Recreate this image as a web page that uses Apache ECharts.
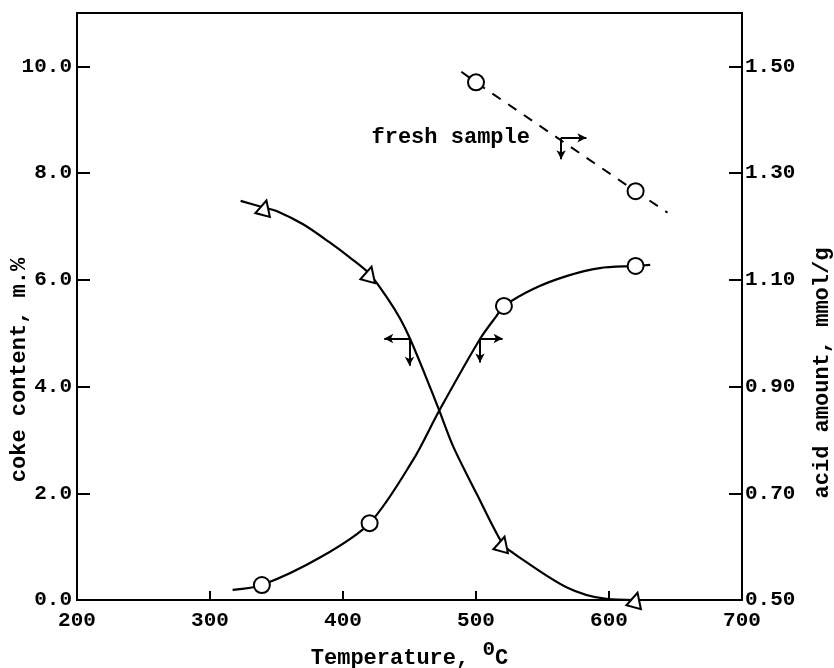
<!DOCTYPE html>
<html>
<head>
<meta charset="utf-8">
<script src="https://cdn.jsdelivr.net/npm/echarts@6/dist/echarts.min.js"></script>
<style>
html,body{margin:0;padding:0;background:#fff;}
#chart{width:834px;height:668px;}
</style>
</head>
<body>
<div id="chart"></div>
<script>
// ---- data ----
const xTicks = [200, 300, 400, 500, 600, 700];
const leftTicks = [0, 2, 4, 6, 8, 10];
const rightTicks = [0.5, 0.7, 0.9, 1.1, 1.3, 1.5];

// coke content (left axis, m.%) - triangles
const cokeT = [341, 420, 520, 620];
const cokeV = [7.35, 6.11, 1.05, 0.0];
// drawn curve through coke points
const cokeCurveT = [323, 341, 350, 370, 390, 405, 420, 433, 443, 450.5, 461.7, 472.4, 483, 500.5, 520, 528, 568, 598, 620];
const cokeCurveV = [7.48, 7.35, 7.29, 7.04, 6.70, 6.42, 6.11, 5.67, 5.27, 4.89, 4.22, 3.55, 2.87, 1.99, 1.05, 0.88, 0.24, 0.02, 0.0];

// acid amount (right axis, mmol/g) - circles
const acidT = [339, 420, 521, 620];
const acidV = [0.528, 0.644, 1.051, 1.126];
const acidCurveT = [317, 339, 383, 420, 452.6, 472.4, 503, 515.6, 521, 543, 568, 593, 620, 631];
const acidCurveV = [0.519, 0.528, 0.580, 0.644, 0.762, 0.855, 0.989, 1.033, 1.051, 1.083, 1.107, 1.122, 1.126, 1.128];

// fresh sample acid amount (right axis) - dashed line
const freshT = [500, 620];
const freshV = [1.470, 1.266];
const freshLineT = [489, 500, 620, 644];
const freshLineV = [1.490, 1.470, 1.266, 1.226];

// arrow annotations: [originX, originY, horizEndX, vertEndY]
const cokeArrow = [450, 4.90, 431, 4.39];
const acidArrow = [503, 0.990, 520, 0.945];
const freshArrow = [564, 1.366, 583, 1.326];

const FONT = '"Liberation Mono", "DejaVu Sans Mono", monospace';
const BLACK = '#000';

function zip(a, b) { return a.map((v, i) => [v, b[i]]); }
function arrowMark(a) {
  return {
    silent: true,
    symbol: ['none', 'arrow'],
    symbolSize: [7, 9],
    label: {show: false},
    lineStyle: {color: BLACK, width: 2, type: 'solid'},
    emphasis: {disabled: true},
    data: [
      [{coord: [a[0], a[1]]}, {coord: [a[2], a[1]]}],
      [{coord: [a[0], a[1]]}, {coord: [a[0], a[3]]}]
    ]
  };
}

const chart = echarts.init(document.getElementById('chart'));
const option = {
  animation: false,
  backgroundColor: '#fff',
  grid: {left: 77, right: 92, top: 13, bottom: 68, show: true, borderColor: BLACK, borderWidth: 2,
         containLabel: false, outerBoundsMode: 'none'},
  xAxis: {
    type: 'value', min: 200, max: 700, interval: 100,
    axisLine: {show: true, lineStyle: {color: BLACK, width: 2}},
    axisTick: {show: true, inside: true, length: 9, lineStyle: {color: BLACK, width: 2}},
    splitLine: {show: false},
    axisLabel: {
      color: BLACK, fontFamily: FONT, fontSize: 21, fontWeight: 'bold', margin: 10,
      formatter: v => xTicks.includes(v) ? String(v) : ''
    },
    name: '{t|Temperature, }{sup|0}{sub|C}',
    nameLocation: 'middle', nameGap: 39,
    nameTextStyle: {
      rich: {
        t: {fontFamily: FONT, fontSize: 22, fontWeight: 'bold', color: BLACK, verticalAlign: 'bottom', lineHeight: 30},
        sup: {fontFamily: FONT, fontSize: 21, fontWeight: 'bold', color: BLACK, verticalAlign: 'top', lineHeight: 30, padding: [0, 0, 12, 0]},
        sub: {fontFamily: FONT, fontSize: 22, fontWeight: 'bold', color: BLACK, verticalAlign: 'bottom', lineHeight: 30}
      }
    }
  },
  yAxis: [
    {
      type: 'value', min: 0, max: 11, interval: 2, position: 'left',
      axisLine: {show: true, lineStyle: {color: BLACK, width: 2}},
      axisTick: {show: true, inside: true, length: 13, lineStyle: {color: BLACK, width: 2}},
      splitLine: {show: false},
      axisLabel: {
        color: BLACK, fontFamily: FONT, fontSize: 21, fontWeight: 'bold', margin: 5,
        showMaxLabel: false,
        formatter: v => leftTicks.some(t => Math.abs(t - v) < 1e-6) ? v.toFixed(1) : ''
      }
    },
    {
      type: 'value', min: 0.5, max: 1.6, interval: 0.2, position: 'right',
      axisLine: {show: true, lineStyle: {color: BLACK, width: 2}},
      axisTick: {show: true, inside: true, length: 13, lineStyle: {color: BLACK, width: 2}},
      splitLine: {show: false},
      axisLabel: {
        color: BLACK, fontFamily: FONT, fontSize: 21, fontWeight: 'bold', margin: 3,
        showMaxLabel: false,
        formatter: v => rightTicks.some(t => Math.abs(t - v) < 1e-6) ? v.toFixed(2) : ''
      }
    }
  ],
  graphic: [
    {
      type: 'text', x: 19, y: 370, rotation: Math.PI / 2,
      style: {text: 'coke content, m.%', font: 'bold 22px ' + FONT, fill: BLACK, align: 'center', verticalAlign: 'middle'}
    },
    {
      type: 'text', x: 822, y: 373, rotation: Math.PI / 2,
      style: {text: 'acid amount, mmol/g', font: 'bold 22px ' + FONT, fill: BLACK, align: 'center', verticalAlign: 'middle'}
    }
  ],
  series: [
    {
      name: 'coke curve', type: 'line', yAxisIndex: 0, data: zip(cokeCurveT, cokeCurveV),
      showSymbol: false, symbol: 'none', smooth: 0.3,
      lineStyle: {color: BLACK, width: 2.2}, z: 2,
      markLine: arrowMark(cokeArrow)
    },
    {
      name: 'acid curve', type: 'line', yAxisIndex: 1, data: zip(acidCurveT, acidCurveV),
      showSymbol: false, symbol: 'none', smooth: 0.3,
      lineStyle: {color: BLACK, width: 2.2}, z: 2,
      markLine: arrowMark(acidArrow)
    },
    {
      name: 'fresh line', type: 'line', yAxisIndex: 1, data: zip(freshLineT, freshLineV),
      showSymbol: false, symbol: 'none',
      lineStyle: {color: BLACK, width: 2, type: [10, 9]}, z: 2,
      markLine: arrowMark(freshArrow),
      markPoint: {
        silent: true, symbol: 'circle', symbolSize: 1,
        itemStyle: {color: 'rgba(0,0,0,0)'},
        label: {show: true, formatter: 'fresh sample', position: 'inside', color: BLACK,
                fontFamily: FONT, fontSize: 22, fontWeight: 'bold'},
        data: [{coord: [481, 1.366]}]
      }
    },
    {
      name: 'coke', type: 'scatter', yAxisIndex: 0, data: zip(cokeT, cokeV),
      symbol: 'triangle', symbolSize: 15, symbolRotate: -15,
      itemStyle: {color: '#fff', borderColor: BLACK, borderWidth: 2, opacity: 1}, z: 5
    },
    {
      name: 'acid', type: 'scatter', yAxisIndex: 1, data: zip(acidT, acidV),
      symbol: 'circle', symbolSize: 16,
      itemStyle: {color: '#fff', borderColor: BLACK, borderWidth: 2, opacity: 1}, z: 5
    },
    {
      name: 'fresh', type: 'scatter', yAxisIndex: 1, data: zip(freshT, freshV),
      symbol: 'circle', symbolSize: 16,
      itemStyle: {color: '#fff', borderColor: BLACK, borderWidth: 2, opacity: 1}, z: 5
    }
  ]
};
chart.setOption(option);
</script>
</body>
</html>
